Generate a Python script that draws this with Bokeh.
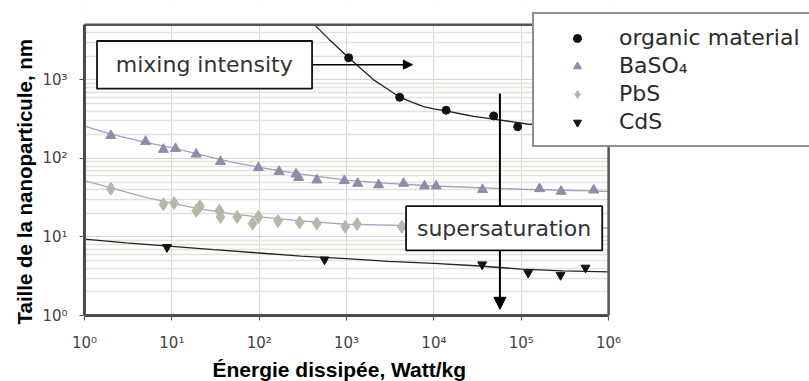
from bokeh.plotting import figure
from bokeh.models import (Range1d, FixedTicker, CustomJSTickFormatter, BoxAnnotation,
                          Label, Arrow, NormalHead, Legend, LegendItem, Title)
from bokeh.embed import file_html
from bokeh.resources import INLINE

# ---------------- data ----------------
organic_x = [1057, 4060, 13800, 48400, 91000]
organic_y = [1910, 600, 410, 347, 253]
organic_fit_x = [350, 440, 653, 1057, 1500, 2040, 3000, 4060, 5500, 7640, 10000, 13800,
                 20000, 28600, 48400, 117000, 300000, 1000000]
organic_fit_y = [6300, 4900, 3160, 1910, 1350, 1000, 753, 601, 525, 456, 427, 402,
                 370, 342, 316, 274, 257, 245]

baso4_x = [2.0, 5.0, 8.0, 11, 19, 36, 98, 169, 264, 283, 457, 944, 1340, 2330, 4500,
           7800, 10600, 36000, 162000, 286000, 676000]
baso4_y = [195, 164, 130, 133, 113, 91, 76, 68, 63, 57, 53, 52, 48, 46, 48,
           44.5, 44.5, 40, 41, 38, 39.5]
baso4_fit_x = [1, 2, 5, 10, 20, 50, 100, 300, 1000, 3000, 10000, 100000, 1000000]
baso4_fit_y = [258, 203, 160, 137, 113, 89, 77, 63, 53, 48, 44.5, 40.5, 38]

pbs_x = [2.0, 8.0, 10.6, 19, 21, 35, 36, 56, 84, 98, 164, 290, 457, 968, 1320, 4300]
pbs_y = [41, 26, 27, 21.5, 24.6, 21.5, 18, 18, 14.8, 18, 16, 15.3, 14.8, 13.5, 14.6, 13.5]
pbs_fit_x = [1, 2, 5, 10, 20, 50, 100, 300, 1000, 10000, 100000, 1000000]
pbs_fit_y = [52, 42, 32, 27, 23, 19.5, 18, 16, 14.5, 13.7, 13.3, 13.0]

cds_x = [8.8, 560, 35700, 120000, 282000, 544000]
cds_y = [7.4, 5.15, 4.46, 3.5, 3.28, 4.05]
cds_fit_x = [1, 3, 10, 30, 100, 300, 1000, 3000, 10000, 30000, 100000, 300000, 1000000]
cds_fit_y = [9.4, 8.4, 7.6, 6.9, 6.25, 5.7, 5.3, 4.9, 4.6, 4.3, 3.9, 3.7, 3.6]

x_ticks = [1, 10, 100, 1000, 10000, 100000, 1000000]
x_tick_labels = ["10\u2070", "10\u00b9", "10\u00b2", "10\u00b3", "10\u2074", "10\u2075", "10\u2076"]
y_ticks = [1, 10, 100, 1000]
y_tick_labels = ["10\u2070", "10\u00b9", "10\u00b2", "10\u00b3"]
y_minor = [m * d for d in [1, 10, 100, 1000] for m in range(2, 10)]

series_names = ["organic material", "BaSO\u2084", "PbS", "CdS"]

# plotted box of the chart (data units) and the wider canvas frame
X_MIN, X_MAX = 1, 1e6
Y_MIN, Y_MAX = 1, 10 ** 3.70
FRAME_X_END = 10 ** 8.30
FRAME_Y_END = 10 ** 4.01

# ---------------- figure ----------------
p = figure(width=809, height=381, x_axis_type="log", y_axis_type="log",
           x_range=Range1d(X_MIN, FRAME_X_END), y_range=Range1d(Y_MIN, FRAME_Y_END),
           output_backend="svg", toolbar_location=None,
           min_border_left=84, min_border_right=0, min_border_top=0, min_border_bottom=61)
p.background_fill_color = "white"
p.border_fill_color = "white"
p.outline_line_color = None

p.xaxis.ticker = FixedTicker(ticks=x_ticks)
p.yaxis.ticker = FixedTicker(ticks=y_ticks, minor_ticks=y_minor)
p.xaxis.bounds = (X_MIN, X_MAX)
p.yaxis.bounds = (Y_MIN, Y_MAX)
p.xaxis.formatter = CustomJSTickFormatter(args=dict(labels=x_tick_labels),
                                          code="return labels[Math.round(Math.log10(tick))];")
p.yaxis.formatter = CustomJSTickFormatter(args=dict(labels=y_tick_labels),
                                          code="return labels[Math.round(Math.log10(tick))];")
for ax in (p.xaxis, p.yaxis):
    ax.axis_line_color = "#444444"
    ax.axis_line_width = 3
    ax.major_tick_line_color = "#555555"
    ax.major_tick_out = 5
    ax.major_tick_in = 0
    ax.minor_tick_line_color = None
    ax.major_label_text_font = "DejaVu Sans"
    ax.major_label_text_font_size = "15px"
    ax.major_label_text_color = "#444444"
p.xaxis.major_label_standoff = 13
p.yaxis.major_label_standoff = 12

p.add_layout(Title(text="\u00c9nergie dissip\u00e9e, Watt/kg", align="left", offset=128,
                   text_font="Liberation Sans", text_font_style="bold",
                   text_font_size="21px", text_color="black", standoff=2), "below")
p.add_layout(Title(text="Taille de la nanoparticule, nm", align="left", offset=-9,
                   text_font="Liberation Sans", text_font_style="bold",
                   text_font_size="20.5px", text_color="black", standoff=8), "left")

p.xgrid.ticker = FixedTicker(ticks=x_ticks)
p.xgrid.grid_line_color = "#d9d9d2"
p.ygrid.grid_line_color = "#d4d4cc"
p.ygrid.minor_grid_line_color = "#e2e2da"
p.ygrid.minor_grid_line_width = 1.5

# fit curves
p.line(baso4_fit_x, baso4_fit_y, line_color="#a0a0c0", line_width=1.3)
p.line(pbs_fit_x, pbs_fit_y, line_color="#a6a6c4", line_width=1.3)
p.line(cds_fit_x, cds_fit_y, line_color="#222222", line_width=1.3)
p.line(organic_fit_x, organic_fit_y, line_color="#222222", line_width=1.3)

# data points
r_org = p.scatter(organic_x, organic_y, marker="circle", size=8, fill_color="#111111", line_color="#111111")
r_ba = p.scatter(baso4_x, baso4_y, marker="triangle", size=10, fill_color="#8c8cab", line_color="#8c8cab")
r_pb = p.scatter(pbs_x, pbs_y, marker="diamond", size=13, fill_color="#b5b8a6", line_color="#b5b8a6")
r_cd = p.scatter(cds_x, cds_y, marker="inverted_triangle", size=9, fill_color="#111111", line_color="#111111")

# white masks outside the chart box, then the chart border
p.add_layout(BoxAnnotation(left=X_MAX, fill_color="white", fill_alpha=1.0, line_alpha=0))
p.add_layout(BoxAnnotation(bottom=Y_MAX, fill_color="white", fill_alpha=1.0, line_alpha=0))
p.add_layout(BoxAnnotation(left=X_MIN, right=X_MAX, bottom=Y_MIN, top=Y_MAX,
                           fill_alpha=0, line_color="#555555", line_width=2.5, line_alpha=1.0))

# annotations: arrows first, then boxes and texts
p.add_layout(Arrow(end=NormalHead(size=12, fill_color="black", line_color="black"),
                   x_start=57000, y_start=670, x_end=57000, y_end=1.2,
                   line_color="black", line_width=2))
p.add_layout(Arrow(end=NormalHead(size=9, fill_color="black", line_color="black"),
                   x_start=403, y_start=1560, x_end=5670, y_end=1560,
                   line_color="black", line_width=1.5))

p.add_layout(BoxAnnotation(left=1.39, right=403, bottom=773, top=3120,
                           fill_color="white", fill_alpha=1.0,
                           line_color="#111111", line_width=1.8, line_alpha=1.0))
p.add_layout(Label(x=23.5, y=1547, text="mixing intensity", text_align="center",
                   text_baseline="middle", text_font="DejaVu Sans", text_font_size="22px",
                   text_color="#333333"))

p.add_layout(BoxAnnotation(left=4800, right=845000, bottom=6.76, top=24.7,
                           fill_color="white", fill_alpha=1.0,
                           line_color="#111111", line_width=1.8, line_alpha=1.0))
p.add_layout(Label(x=63500, y=12.9, text="supersaturation", text_align="center",
                   text_baseline="middle", text_font="DejaVu Sans", text_font_size="22px",
                   text_color="#333333"))

legend = Legend(items=[LegendItem(label=series_names[0], renderers=[r_org]),
                       LegendItem(label=series_names[1], renderers=[r_ba]),
                       LegendItem(label=series_names[2], renderers=[r_pb]),
                       LegendItem(label=series_names[3], renderers=[r_cd])],
                location=(448, 168), margin=0, padding=11, spacing=3,
                glyph_width=64, glyph_height=20, label_standoff=10, label_width=190,
                label_text_font="DejaVu Sans", label_text_font_size="22px",
                label_text_color="#2a2a2a",
                border_line_color="#222222", border_line_width=2,
                background_fill_color="white", background_fill_alpha=1.0)
p.add_layout(legend)

open("out.html", "w").write(file_html(p, INLINE))
